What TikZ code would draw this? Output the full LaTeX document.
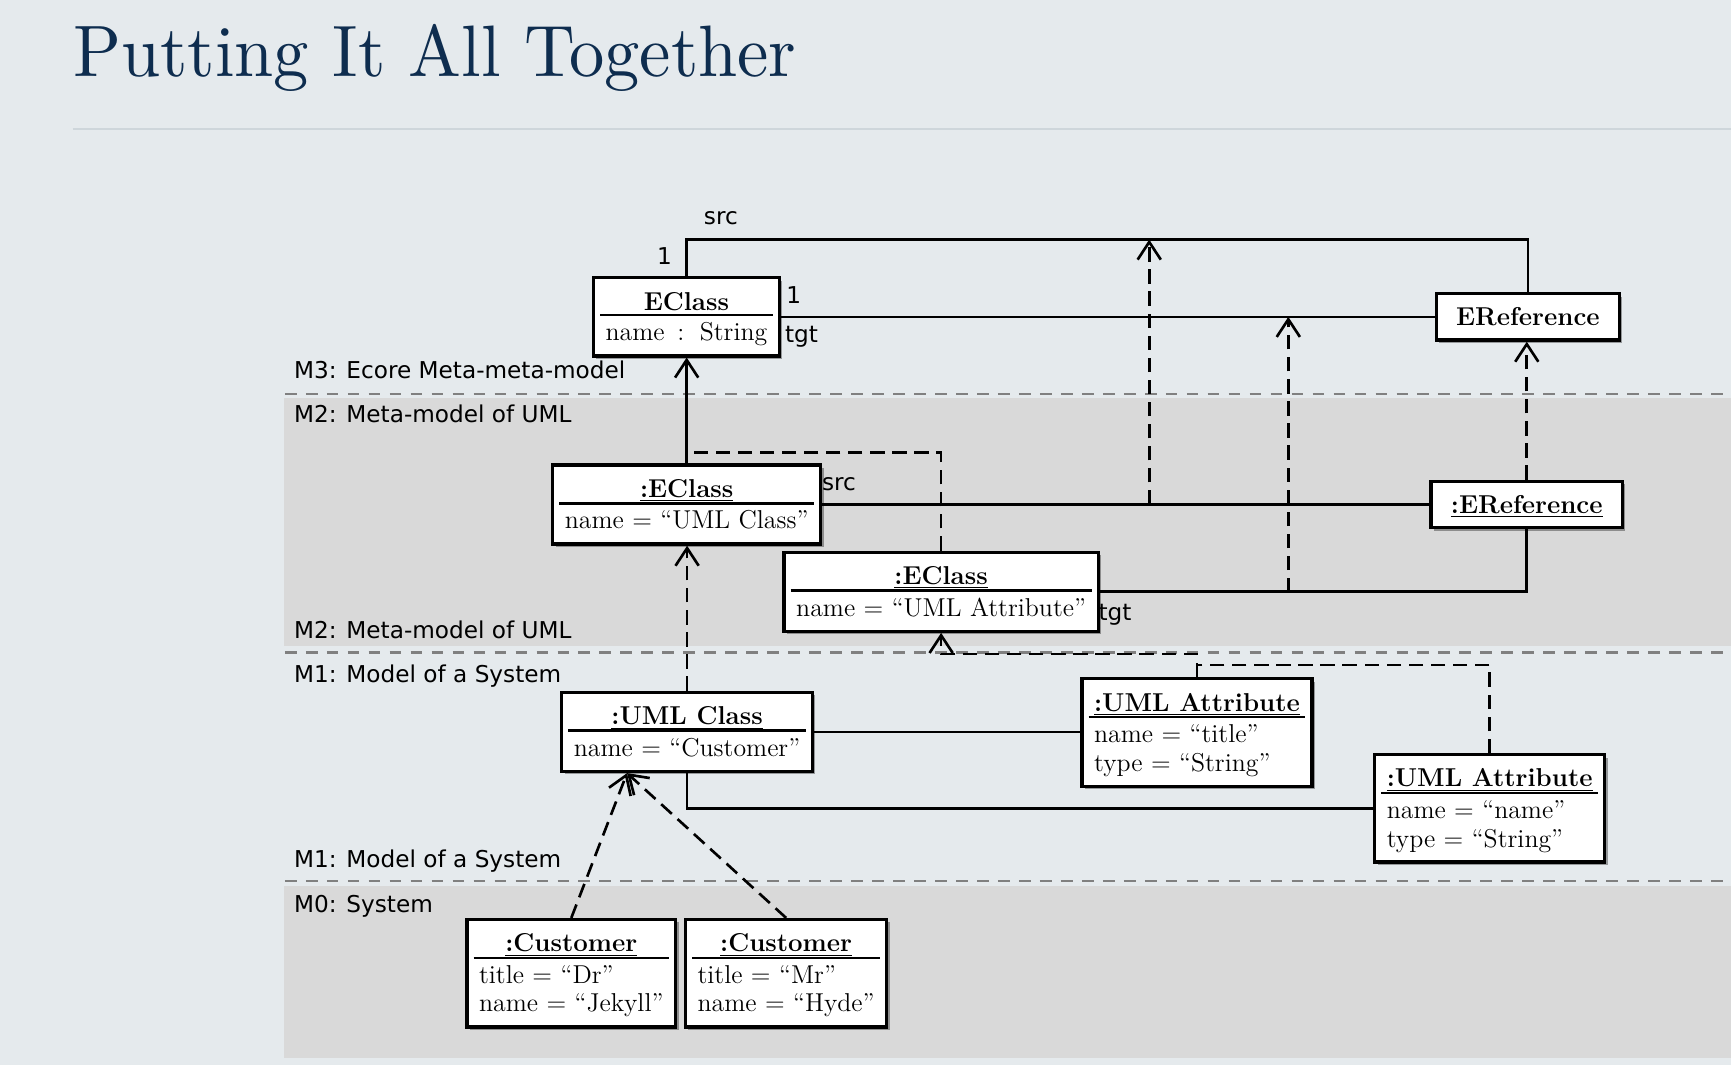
\documentclass[tikz,border=0pt]{standalone}
\usepackage{fontspec}
\usepackage{graphicx}
\newfontfamily\labfont{DejaVu Sans}
\usetikzlibrary{arrows.meta,shadows}
\definecolor{bgc}{HTML}{E5EAED}
\definecolor{bandc}{HTML}{D9D9D9}
\definecolor{titlec}{HTML}{0E2D4F}
\definecolor{sepc}{HTML}{CED6DB}
\definecolor{dashc}{HTML}{808080}
\setlength{\arrayrulewidth}{1.2pt}
\renewcommand{\arraystretch}{0}
\newcommand{\ttlstrut}{\rule[-1.7pt]{0pt}{13.3pt}}
\newcommand{\afirst}{\rule[-3.85pt]{0pt}{14.85pt}}
\newcommand{\anext}{\rule[-3.85pt]{0pt}{12.85pt}}
\newcommand{\onestrut}{\rule[-3.5pt]{0pt}{15pt}}
\newcommand{\objtab}[2]{\begin{tabular}{@{\hspace{2.5pt}}l@{\hspace{2.5pt}}}\multicolumn{1}{@{\hspace{2.5pt}}c@{\hspace{2.5pt}}}{\bfseries\ttlstrut #1}\\\hline #2\end{tabular}}
\newcommand{\objfont}{\fontsize{11.7}{13.5}\selectfont}
\begin{document}
\begin{tikzpicture}[x=0.5pt,y=-0.5pt,
  conn/.style={line width=1.2pt},
  dconn/.style={line width=1.2pt, dash pattern=on 6.5pt off 3.5pt},
  tip/.style={-{Straight Barb[length=8pt,width=10.5pt]}},
  obj/.style={draw, line width=1.5pt, fill=white, inner xsep=3pt, inner ysep=3pt, font=\objfont,
    drop shadow={shadow xshift=1.3pt, shadow yshift=-1.3pt, fill=black, opacity=0.35}},
  objone/.style={obj, inner xsep=9pt},
  lab/.style={font=\labfont\fontsize{10.5}{12}\selectfont, inner sep=0pt},
  bandline/.style={draw=dashc, line width=1.2pt, dash pattern=on 5.3pt off 4.2pt}]
\fill[bgc] (0,0) rectangle (1568,964.7);
\useasboundingbox (0,0) rectangle (1568,964.7);
% bands
\fill[bandc] (257,360.5) rectangle (1568,585.5);
\fill[bandc] (257,803) rectangle (1568,958);
\draw[bandline] (258,357) -- (1568,357);
\draw[bandline] (258,591) -- (1568,591);
\draw[bandline] (258,798) -- (1568,798);
% title
\node[anchor=base west, inner sep=0pt, text=titlec] (title) at (66,69.5) {\scalebox{3.19}[3.3]{\fontsize{10}{12}\selectfont Putting It All Together}};
\draw[sepc, line width=1pt] (66,117) -- (1568,117);
% layer labels
\node[lab, anchor=base west] (L3) at (266,342.5) {M3: Ecore Meta-meta-model};
\node[lab, anchor=base west] (L2a) at (266,382.5) {M2: Meta-model of UML};
\node[lab, anchor=base west] (L2b) at (266,578) {M2: Meta-model of UML};
\node[lab, anchor=base west] (L1a) at (266,618.5) {M1: Model of a System};
\node[lab, anchor=base west] (L1b) at (266,785.5) {M1: Model of a System};
\node[lab, anchor=base west] (L0) at (266,826.5) {M0: System};
% objects
\node[obj] (EC) at (621.8,287) {\objtab{EClass}{\afirst name\, : \,String}};
\node[objone] (ER) at (1384,287) {\bfseries\onestrut EReference};
\node[obj] (ECc) at (622,457) {\objtab{\underline{:EClass}}{\afirst name = “UML Class”}};
\node[objone] (ERi) at (1383,457) {\bfseries\onestrut\underline{:EReference}};
\node[obj] (ECa) at (852.5,536) {\objtab{\underline{:EClass}}{\afirst name = “UML Attribute”}};
\node[obj] (UC) at (622.4,663) {\objtab{\underline{:UML Class}}{\afirst name = “Customer”}};
\node[obj] (UA1) at (1084.3,663.5) {\objtab{\underline{:UML Attribute}}{\afirst name = “title”\\\anext type = “String”}};
\node[obj] (UA2) at (1349.4,732.3) {\objtab{\underline{:UML Attribute}}{\afirst name = “name”\\\anext type = “String”}};
\node[obj] (C1) at (517.5,881.6) {\objtab{\underline{:Customer}}{\afirst title = “Dr”\\\anext name = “Jekyll”}};
\node[obj] (C2) at (712.1,881.6) {\objtab{\underline{:Customer}}{\afirst title = “Mr”\\\anext name = “Hyde”}};
% M3 associations
\coordinate (srcY) at (1000,217);
\coordinate (tgtY) at (1000,287);
\draw[conn] (EC.north) -- (EC.north |- srcY) -- (ER.north |- srcY) -- (ER.north);
\draw[conn] (EC.east) -- (EC.east -| ER.west);
\node[lab] (s1) at (653,198) {src};
\node[lab] (n1) at (602,232) {1};
\node[lab] (n2) at (719,267) {1};
\node[lab] (t1) at (726,305) {tgt};
% M2 links
\draw[conn] (ECc.east) -- (ECc.east -| ERi.west);
\draw[conn] (ECa.east) -| (ERi.south);
\node[lab] (s2) at (760,439) {src};
\node[lab] (t2) at (1010,557) {tgt};
% instance-of M2 -> M3
\coordinate (j1) at (622,410);
\draw[conn,tip] (ECc.north) -- (ECc.north |- EC.south);
\draw[dconn] (ECa.north) -- (ECa.north |- j1) -- (j1);
\coordinate (d1) at (1041,457);
\coordinate (d2) at (1167,536.5);
\draw[dconn,tip] (d1) -- (d1 |- srcY);
\draw[dconn,tip] (d2) -- (d2 |- tgtY);
\draw[dconn,tip] (ERi.north) -- (ERi.north |- ER.south);
% M1 links
\draw[conn] (UC.east) -- (UC.east -| UA1.west);
\draw[conn] (UC.south) |- (UA2.west);
% instance-of M1 -> M2
\coordinate (yA) at (0,592.5);
\coordinate (yB) at (0,602.5);
\draw[dconn,tip] (UC.north) -- (UC.north |- ECc.south);
\draw[dconn] (UA2.north) -- (UA2.north |- yB) -- (UA1.north |- yB);
\draw[dconn,tip] (UA1.north) -- (UA1.north |- yA) -- (ECa.south |- yA) -- (ECa.south);
% instance-of M0 -> M1
\coordinate (uct) at ([xshift=-27.2pt]UC.south);
\draw[dconn,tip] (C1.north) -- (uct);
\draw[dconn,tip] (C2.north) -- (uct);
\end{tikzpicture}
\end{document}
